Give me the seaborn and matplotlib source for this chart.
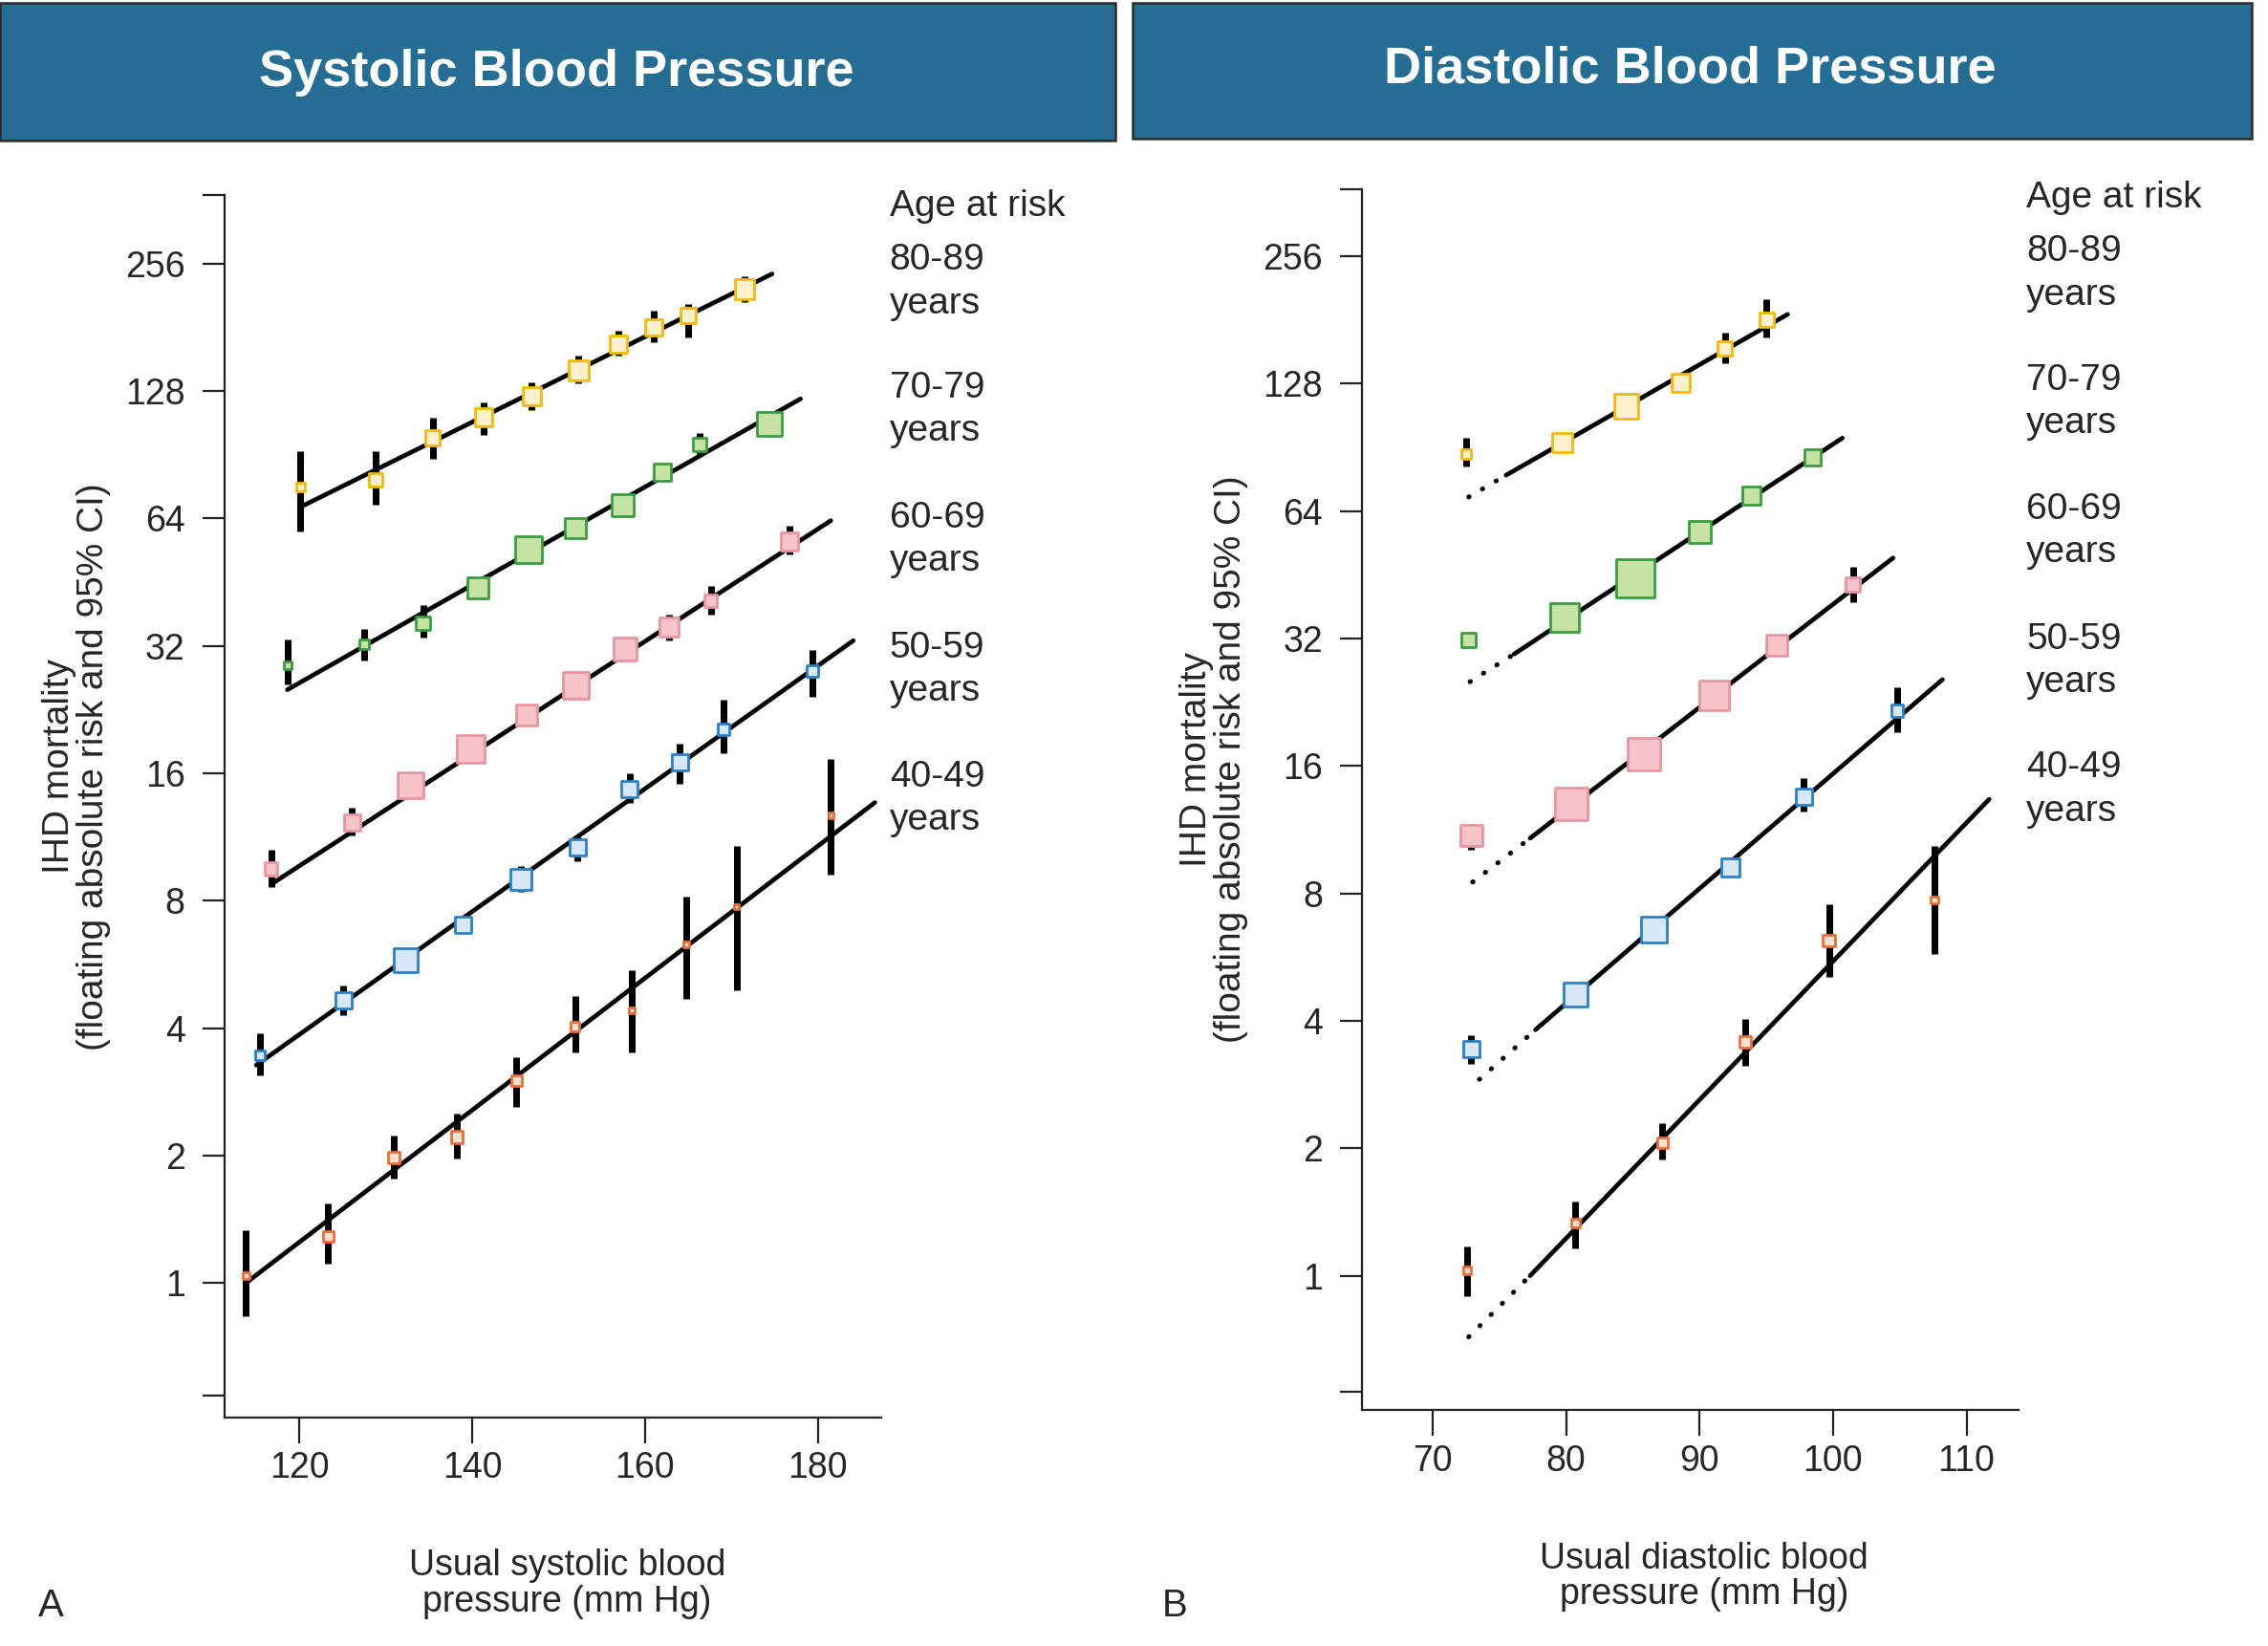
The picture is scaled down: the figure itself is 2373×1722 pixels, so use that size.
import numpy as np
import pandas as pd
import seaborn as sns
import matplotlib.pyplot as plt
from matplotlib import font_manager
from matplotlib.patches import Rectangle
from matplotlib.ticker import NullLocator

# ---- data ----
age_groups = ["80-89", "70-79", "60-69", "50-59", "40-49"]
edge_colors = ["#f2b90f", "#3c9c42", "#e797a2", "#2f7fc6", "#e6703c"]
fill_colors = ["#fdf0cc", "#c6e3a3", "#f7c4ca", "#d5e7f8", "#fbe0d2"]
nan = np.nan

# systolic: usual SBP, risk, 95% CI, relative weight (size of square)
sys_x = [[120.1, 128.8, 135.4, 141.3, 146.9, 152.3, 156.9, 161.0, 165.0, 171.5],
         [118.6, 127.5, 134.3, 140.6, 146.5, 151.9, 157.4, 162.0, 166.3, 174.4],
         [116.7, 126.1, 132.9, 139.8, 146.3, 152.0, 157.7, 162.8, 167.6, 176.7],
         [115.4, 125.1, 132.3, 138.9, 145.6, 152.2, 158.2, 164.0, 169.1, 179.4],
         [113.8, 123.3, 130.9, 138.2, 145.1, 151.9, 158.5, 164.8, 170.6, 181.5]]
sys_y = [[75.8, 78.7, 99.1, 110.9, 124.2, 143.3, 165.2, 180.9, 193.0, 222.6],
         [28.8, 32.3, 36.2, 43.9, 54.0, 60.7, 68.7, 82.2, 95.7, 107.1],
         [9.51, 12.26, 15.0, 18.27, 22.0, 25.8, 31.4, 35.4, 40.9, 56.4],
         [3.45, 4.65, 5.79, 7.03, 8.97, 10.71, 14.65, 16.94, 20.3, 27.9],
         [1.04, 1.29, 1.98, 2.21, 3.01, 4.03, 4.41, 6.30, 7.75, 12.73]]
sys_lo = [[59.7, 69.1, 88.5, 100.8, 115.2, 133.1, 155.0, 166.6, 171.6, 207.7],
          [25.9, 29.6, 33.5, nan, nan, nan, nan, nan, 90.8, nan],
          [8.62, 11.39, nan, nan, nan, nan, nan, 33.0, 37.9, 52.6],
          [3.09, 4.29, nan, nan, 8.39, 9.92, 13.64, 15.12, 17.8, 24.2],
          [0.835, 1.11, 1.76, 1.97, 2.60, 3.50, 3.50, 4.68, 4.91, 9.21]]
sys_hi = [[92.0, 92.3, 110.4, 120.5, 134.2, 155.0, 177.2, 197.8, 205.7, 238.9],
          [33.1, 35.1, 39.9, nan, nan, nan, nan, nan, 101.8, nan],
          [10.57, 13.28, nan, nan, nan, nan, nan, 37.9, 44.3, 61.5],
          [3.89, 5.03, nan, nan, 9.66, 11.39, 15.99, 18.75, 23.9, 31.2],
          [1.33, 1.54, 2.23, 2.51, 3.42, 4.77, 5.49, 8.17, 10.80, 17.31]]
sys_w = [[36, 81, 100, 144, 154, 177, 125, 125, 108, 177],
         [25, 40, 88, 202, 313, 196, 219, 139, 77, 262],
         [77, 121, 303, 357, 202, 303, 231, 159, 77, 139],
         [40, 121, 250, 121, 202, 121, 121, 121, 62, 62],
         [22, 49, 64, 64, 49, 36, 16, 16, 12, 12]]
# fitted lines (start / end)
sys_fit_x0 = [120.2, 118.6, 116.7, 115.0, 113.8]
sys_fit_y0 = [68.2, 25.2, 8.74, 3.27, 1.0]
sys_fit_x1 = [174.7, 178.0, 181.5, 184.1, 186.6]
sys_fit_y1 = [241.8, 122.6, 63.2, 32.9, 13.64]

# diastolic
dia_x = [[72.5, 79.7, 84.5, 88.6, 91.9, 95.0],
         [72.7, 79.9, 85.2, 90.0, 93.9, 98.5],
         [72.9, 80.4, 85.8, 91.1, 95.8, 101.5],
         [72.9, 80.7, 86.6, 92.3, 97.8, 104.8],
         [72.6, 80.7, 87.2, 93.4, 99.7, 107.6]]
dia_y = [[87.3, 92.8, 113.3, 128.5, 154.8, 180.8],
         [31.8, 35.8, 44.4, 57.2, 69.7, 85.6],
         [10.95, 13.0, 17.09, 23.5, 30.8, 42.9],
         [3.43, 4.62, 6.56, 9.21, 13.53, 21.6],
         [1.03, 1.33, 2.06, 3.57, 6.19, 7.72]]
dia_lo = [[81.5, nan, nan, nan, 143.1, 164.4],
          [nan, nan, nan, nan, nan, nan],
          [10.16, nan, nan, nan, 29.5, 39.0],
          [3.16, nan, nan, nan, 12.5, 19.2],
          [0.893, 1.16, 1.88, 3.13, 5.07, 5.76]]
dia_hi = [[95.2, nan, nan, nan, 168.7, 202.5],
          [nan, nan, nan, nan, nan, nan],
          [11.70, nan, nan, nan, 32.0, 47.2],
          [3.69, nan, nan, nan, 14.97, 24.6],
          [1.17, 1.50, 2.29, 4.05, 7.55, 10.38]]
dia_w = [[46, 174, 269, 151, 92, 92],
         [92, 369, 676, 225, 151, 121],
         [202, 484, 484, 384, 202, 92],
         [121, 250, 303, 159, 121, 62],
         [25, 36, 49, 64, 64, 25]]
# dotted extrapolation start, solid fit start, fit end
dia_dot_x0 = [72.7, 72.8, 73.0, 73.5, 72.7]
dia_dot_y0 = [69.1, 25.3, 8.51, 2.91, 0.717]
dia_fit_x0 = [75.5, 76.1, 77.3, 77.7, 77.3]
dia_fit_y0 = [77.8, 29.4, 10.8, 3.81, 1.0]
dia_fit_x1 = [96.6, 100.7, 104.5, 108.2, 111.7]
dia_fit_y1 = [186.6, 95.2, 49.6, 25.6, 13.35]

risk_ticks = [1, 2, 4, 8, 16, 32, 64, 128, 256]


def long_table(xs, ys, los, his, ws):
    rows = []
    for g, grp in enumerate(age_groups):
        for i in range(len(xs[g])):
            rows.append({"group": grp, "bp": xs[g][i], "risk": ys[g][i],
                         "lo": los[g][i], "hi": his[g][i], "w": ws[g][i]})
    return pd.DataFrame(rows)


df_sys = long_table(sys_x, sys_y, sys_lo, sys_hi, sys_w)
df_dia = long_table(dia_x, dia_y, dia_lo, dia_hi, dia_w)

# ---- style ----
sns.set_style("ticks")
names = {f.name for f in font_manager.fontManager.ttflist}
narrow = "Liberation Sans Narrow" if "Liberation Sans Narrow" in names else "Liberation Sans"
plt.rcParams["font.family"] = ["Liberation Sans", "DejaVu Sans"]
plt.rcParams["axes.edgecolor"] = "#222222"
plt.rcParams["axes.linewidth"] = 1.6

fig = plt.figure(figsize=(23.73, 17.22), dpi=100)
ax_s = fig.add_axes([0.0989, 0.1388, 0.2895, 0.7426])
ax_d = fig.add_axes([0.6005, 0.1432, 0.2895, 0.7417])


def draw_points(ax, df):
    for g, grp in enumerate(age_groups):
        sub = df[df["group"] == grp]
        ok = sub.dropna(subset=["lo", "hi"])
        ax.vlines(ok["bp"], ok["lo"], ok["hi"], color="black", lw=5, zorder=2.5)
        sns.scatterplot(data=sub, x="bp", y="risk", size="w", sizes=(0, 1000),
                        size_norm=(0, 800), marker="s", color=fill_colors[g],
                        edgecolor=edge_colors[g], linewidth=2, legend=False,
                        zorder=3, ax=ax)


# systolic fits
for g in range(len(age_groups)):
    sns.lineplot(x=[sys_fit_x0[g], sys_fit_x1[g]], y=[sys_fit_y0[g], sys_fit_y1[g]],
                 color="black", lw=3.4, estimator=None, sort=False, ax=ax_s, zorder=2)
draw_points(ax_s, df_sys)

# diastolic fits (dotted extrapolation + solid)
for g in range(len(age_groups)):
    ax_d.plot([dia_dot_x0[g], dia_fit_x0[g]], [dia_dot_y0[g], dia_fit_y0[g]],
              color="black", lw=3.6, ls=(0, (0.1, 3.2)), dash_capstyle="round", zorder=2)
    sns.lineplot(x=[dia_fit_x0[g], dia_fit_x1[g]], y=[dia_fit_y0[g], dia_fit_y1[g]],
                 color="black", lw=3.4, estimator=None, sort=False, ax=ax_d, zorder=2)
draw_points(ax_d, df_dia)


def style_axis(ax, xlim, xticks, ylim, ybottom_tick):
    ax.set_yscale("log", base=2)
    ax.set_xlim(*xlim)
    ax.set_ylim(*ylim)
    ax.set_xticks(xticks)
    ax.set_xticklabels([str(t) for t in xticks])
    ax.set_yticks([ybottom_tick] + risk_ticks + [ylim[1]])
    ax.set_yticklabels([""] + [str(t) for t in risk_ticks] + [""])
    ax.yaxis.set_minor_locator(NullLocator())
    ax.tick_params(axis="y", length=16.5, width=1.6, pad=13, labelsize=27, color="#222222")
    ax.tick_params(axis="x", length=19.5, width=1.6, pad=6, labelsize=27, color="#222222")
    ax.set_xlabel("")
    ax.set_ylabel("")
    sns.despine(ax=ax)


style_axis(ax_s, (111.3, 187.3), [120, 140, 160, 180], (0.481, 371), 0.541)
style_axis(ax_d, (64.7, 113.9), [70, 80, 90, 100, 110], (0.481, 368), 0.533)

# ---- header boxes ----
hdr = "#256d93"
fig.patches.append(Rectangle((0.0, 0.9148), 0.4917, 0.0835, transform=fig.transFigure,
                             facecolor=hdr, edgecolor="#2b2b2b", lw=1.8))
fig.patches.append(Rectangle((0.4994, 0.9156), 0.4936, 0.0826, transform=fig.transFigure,
                             facecolor=hdr, edgecolor="#2b2b2b", lw=1.8))
tsize = 47 if narrow == "Liberation Sans Narrow" else 39
fig.text(0.2455, 0.956, "Systolic Blood Pressure", color="white", fontsize=tsize,
         fontweight="bold", family=narrow, ha="center", va="center")
fig.text(0.745, 0.958, "Diastolic Blood Pressure", color="white", fontsize=tsize,
         fontweight="bold", family=narrow, ha="center", va="center")

# ---- age labels ----
H = 1138.0
for x0, y_head, y_grp in [(615, 143, [180, 268, 358, 448, 537]),
                          (1401, 137, [174, 263, 352, 442, 531])]:
    fig.text(x0 / 1568, 1 - y_head / H, "Age at risk", fontsize=28, ha="left", va="center")
    for g, grp in enumerate(age_groups):
        fig.text(x0 / 1568, 1 - y_grp[g] / H, grp, fontsize=28, ha="left", va="center")
        fig.text(x0 / 1568, 1 - (y_grp[g] + 30) / H, "years", fontsize=28, ha="left", va="center")

# ---- axis titles ----
ylab = "IHD mortality\n(floating absolute risk and 95% CI)"
fig.text(0.0338, 0.5343, ylab, rotation=90, fontsize=28, ha="center", va="center",
         multialignment="center", linespacing=1.0)
fig.text(0.5351, 0.5387, ylab, rotation=90, fontsize=28, ha="center", va="center",
         multialignment="center", linespacing=1.0)
fig.text(0.25, 0.0378, "Usual systolic blood\npressure (mm Hg)", fontsize=27,
         ha="center", va="center", multialignment="center", linespacing=1.05)
fig.text(0.7513, 0.0422, "Usual diastolic blood\npressure (mm Hg)", fontsize=27,
         ha="center", va="center", multialignment="center", linespacing=1.05)
fig.text(0.0223, 0.0246, "A", fontsize=29, ha="center", va="center")
fig.text(0.5179, 0.0246, "B", fontsize=29, ha="center", va="center")

fig.savefig("out.png", dpi=100, facecolor="white")
